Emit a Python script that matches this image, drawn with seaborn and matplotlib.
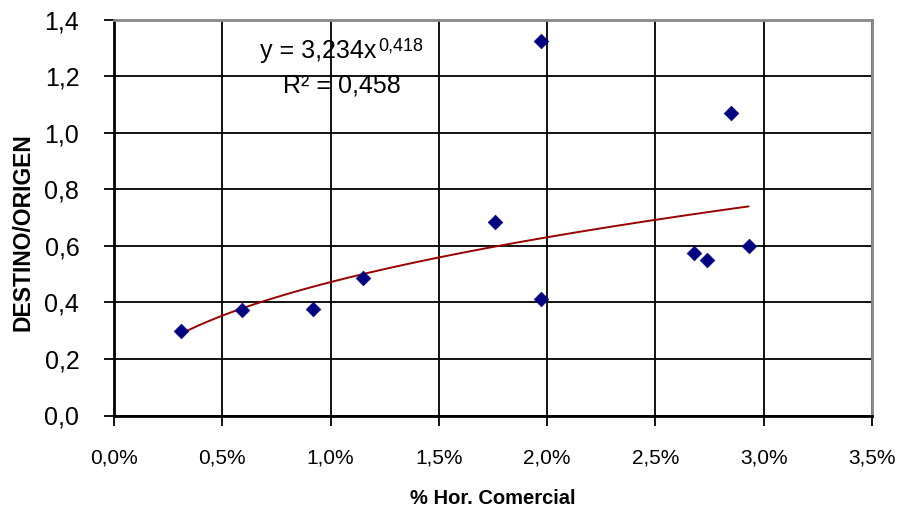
import numpy as np
import pandas as pd
import matplotlib
matplotlib.use("Agg")
import matplotlib.pyplot as plt
import seaborn as sns
from matplotlib.ticker import FuncFormatter

# Data (x as fraction, i.e. 0.01 = 1%)
hor_comercial = [0.0031, 0.0059, 0.0092, 0.0115, 0.0176, 0.0197, 0.0197, 0.0268, 0.0274, 0.0293, 0.0285]
destino_origen = [0.299, 0.373, 0.376, 0.486, 0.684, 0.412, 1.324, 0.573, 0.549, 0.599, 1.068]

# Power trendline coefficients (as shown on the chart)
coef_a = 3.234
coef_b = 0.418
r2_text = "R² = 0,458"
eq_text = "y = 3,234x"
eq_exp = "0,418"

x_ticks = [0.0, 0.005, 0.010, 0.015, 0.020, 0.025, 0.030, 0.035]
y_ticks = [0.0, 0.2, 0.4, 0.6, 0.8, 1.0, 1.2, 1.4]

sns.set_theme(style="white")
plt.rcParams['font.family'] = ['Liberation Sans', 'DejaVu Sans']

df = pd.DataFrame({"x": hor_comercial, "y": destino_origen})
xt = np.linspace(min(hor_comercial), max(hor_comercial), 200)
trend = pd.DataFrame({"x": xt, "y": coef_a * xt ** coef_b})

fig = plt.figure(figsize=(8.99, 5.09), dpi=100)
ax = fig.add_axes([114 / 899, 1 - 415.5 / 509, (872 - 114) / 899, (415.5 - 19.6) / 509])

sns.lineplot(data=trend, x="x", y="y", ax=ax, color="#990000", linewidth=1.4, zorder=3)
sns.scatterplot(data=df, x="x", y="y", ax=ax, marker="D", s=55, color="#000080",
                edgecolor="#000080", linewidth=0.5, zorder=4)

ax.set_xlim(0, 0.035)
ax.set_ylim(0, 1.4)
ax.set_xticks(x_ticks)
ax.set_yticks(y_ticks)
ax.xaxis.set_major_formatter(FuncFormatter(lambda v, p: f"{v*100:.1f}%".replace(".", ",")))
ax.yaxis.set_major_formatter(FuncFormatter(lambda v, p: f"{v:.1f}".replace(".", ",")))

ax.grid(True, color="black", linewidth=1.3)
ax.set_axisbelow(True)

for side in ["left", "bottom"]:
    ax.spines[side].set_color("black")
    ax.spines[side].set_linewidth(2)
for side in ["top", "right"]:
    ax.spines[side].set_color("#888888")
    ax.spines[side].set_linewidth(2)

ax.tick_params(axis="y", which="major", direction="out", length=7, width=1.3, color="black",
               labelsize=18, pad=18, left=True, labelcolor="black")
ax.tick_params(axis="x", which="major", direction="out", length=7, width=1.3, color="black",
               labelsize=15, pad=17, bottom=True, labelcolor="black")

ax.set_xlabel("% Hor. Comercial", fontsize=14.5, fontweight="bold", color="black", labelpad=15)
ax.set_ylabel("DESTINO/ORIGEN", fontsize=16.5, fontweight="bold", color="black")
ax.yaxis.set_label_coords(-0.105, 0.462)

t1 = ax.text(260 / 899, 1 - 58 / 509, eq_text, transform=fig.transFigure, fontsize=18,
             color="black", ha="left", va="baseline")
ax.annotate(eq_exp, xy=(1, 1), xycoords=t1, xytext=(1, 1), textcoords="offset points",
            fontsize=13, color="black", ha="left", va="top")
ax.text(283 / 899, 1 - 93 / 509, r2_text, transform=fig.transFigure, fontsize=18,
        color="black", ha="left", va="baseline")

fig.savefig("out.png", dpi=100)
